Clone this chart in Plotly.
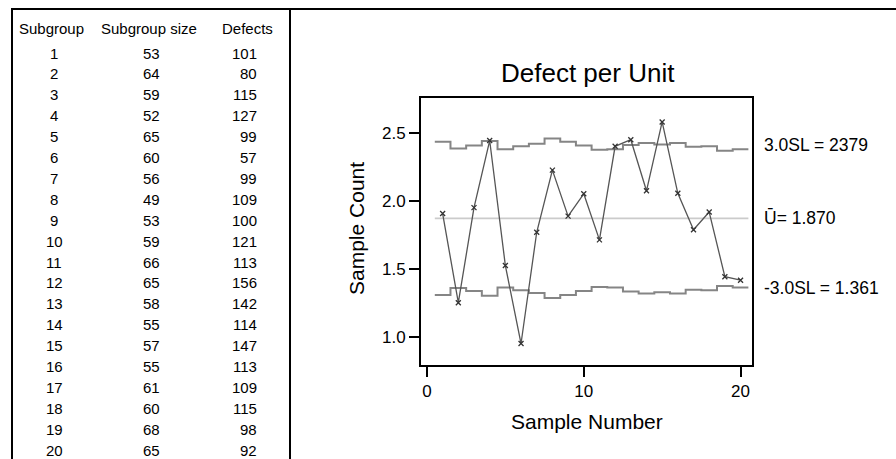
import plotly.graph_objects as go

# Subgroup data for the u-chart
subgroup = list(range(1, 21))
subgroup_size = [53, 64, 59, 52, 65, 60, 56, 49, 53, 59, 66, 65, 58, 55, 57, 55, 61, 60, 68, 65]
defects = [101, 80, 115, 127, 99, 57, 99, 109, 100, 121, 113, 156, 142, 114, 147, 113, 109, 115, 98, 92]

# Control limits per subgroup (3-sigma) and centre line
ucl = [2.434, 2.383, 2.405, 2.439, 2.379, 2.400, 2.419, 2.457, 2.434, 2.405,
       2.375, 2.379, 2.409, 2.424, 2.414, 2.424, 2.396, 2.400, 2.368, 2.379]
lcl = [1.307, 1.358, 1.336, 1.301, 1.361, 1.341, 1.322, 1.284, 1.307, 1.336,
       1.365, 1.361, 1.332, 1.317, 1.327, 1.317, 1.345, 1.341, 1.373, 1.361]
u_bar = 1.870

col_headers = ["Subgroup", "Subgroup size", "Defects"]
x_ticks = [0, 10, 20]
y_ticks = [1.0, 1.5, 2.0, 2.5]

# defects per unit for each subgroup
u = [d / n for d, n in zip(defects, subgroup_size)]

W, H = 896, 459
FONT = "Liberation Sans, Arial, sans-serif"


def px(x):
    return x / W


def py(y):
    return 1 - y / H


fig = go.Figure()

# step limits extend half a subgroup either side
x_step = [subgroup[0] - 0.5] + subgroup + [subgroup[-1] + 0.5]


def padded(vals):
    return [vals[0]] + vals + [vals[-1]]


fig.add_trace(go.Scatter(
    x=x_step, y=padded(ucl), mode="lines", line_shape="hvh",
    line=dict(color="#858585", width=2), hoverinfo="skip", showlegend=False))
fig.add_trace(go.Scatter(
    x=x_step, y=padded(lcl), mode="lines", line_shape="hvh",
    line=dict(color="#858585", width=2), hoverinfo="skip", showlegend=False))
fig.add_trace(go.Scatter(
    x=[x_step[0], x_step[-1]], y=[u_bar, u_bar], mode="lines",
    line=dict(color="#cbcbcb", width=1.8), hoverinfo="skip", showlegend=False))
fig.add_trace(go.Scatter(
    x=subgroup, y=u, mode="lines+markers",
    line=dict(color="#555555", width=1.3),
    marker=dict(symbol="x-thin", size=5, color="#333333",
                line=dict(color="#333333", width=1.3)),
    showlegend=False))

fig.update_xaxes(
    domain=[px(421), px(752)], range=[-0.38, 20.73],
    tickvals=x_ticks, ticks="outside", ticklen=10, tickwidth=1.5, tickcolor="black",
    showline=True, mirror=True, linecolor="black", linewidth=2,
    showgrid=False, zeroline=False,
    tickfont=dict(family=FONT, size=17, color="black"))
fig.update_yaxes(
    domain=[py(365), py(98)], range=[0.792, 2.755],
    tickvals=y_ticks, tickformat=".1f", ticks="outside", ticklen=10, tickwidth=1.5,
    tickcolor="black", showline=True, mirror=True, linecolor="black", linewidth=2,
    showgrid=False, zeroline=False,
    tickfont=dict(family=FONT, size=17, color="black"))

ann = []
# chart title and axis titles
ann.append(dict(x=px(588), y=py(73), xref="paper", yref="paper", text="Defect per Unit",
                showarrow=False, xanchor="center", yanchor="middle",
                font=dict(family=FONT, size=26, color="black")))
ann.append(dict(x=px(587), y=py(421), xref="paper", yref="paper", text="Sample Number",
                showarrow=False, xanchor="center", yanchor="middle",
                font=dict(family=FONT, size=21, color="black")))
ann.append(dict(x=px(357), y=py(229), xref="paper", yref="paper", text="Sample Count",
                showarrow=False, xanchor="center", yanchor="middle", textangle=-90,
                font=dict(family=FONT, size=21, color="black")))

# limit labels on the right of the plot
lab_font = dict(family=FONT, size=17.5, color="black")
ann.append(dict(x=px(762), y=ucl[-1], xref="paper", yref="y", text="3.0SL = 2379",
                showarrow=False, xanchor="left", yanchor="middle", yshift=4, font=lab_font))
ann.append(dict(x=px(762), y=u_bar, xref="paper", yref="y", text="Ū= 1.870",
                showarrow=False, xanchor="left", yanchor="middle", font=lab_font))
ann.append(dict(x=px(762), y=lcl[-1], xref="paper", yref="y", text="-3.0SL = 1.361",
                showarrow=False, xanchor="left", yanchor="middle", font=lab_font))

# data table on the left
tab_font = dict(family=FONT, size=15, color="black")
header_y = 29
row0_y = 53
row_h = 20.9
ann.append(dict(x=px(51), y=py(header_y), xref="paper", yref="paper", text=col_headers[0],
                showarrow=False, xanchor="center", yanchor="middle", font=tab_font))
ann.append(dict(x=px(149), y=py(header_y), xref="paper", yref="paper", text=col_headers[1],
                showarrow=False, xanchor="center", yanchor="middle", font=tab_font))
ann.append(dict(x=px(220), y=py(header_y), xref="paper", yref="paper", text=col_headers[2],
                showarrow=False, xanchor="left", yanchor="middle", font=tab_font))
for i, (g, n, d) in enumerate(zip(subgroup, subgroup_size, defects)):
    yy = py(row0_y + i * row_h)
    ann.append(dict(x=px(54), y=yy, xref="paper", yref="paper", text=str(g),
                    showarrow=False, xanchor="center", yanchor="middle", font=tab_font))
    ann.append(dict(x=px(151), y=yy, xref="paper", yref="paper", text=str(n),
                    showarrow=False, xanchor="center", yanchor="middle", font=tab_font))
    ann.append(dict(x=px(259), y=yy, xref="paper", yref="paper", text=str(d),
                    showarrow=False, xanchor="right", yanchor="middle", font=tab_font))

# table frame: top rule, left rule and column divider
line = dict(color="black", width=2)
shapes = [
    dict(type="line", xref="paper", yref="paper", x0=px(12), x1=1, y0=py(9), y1=py(9), line=line),
    dict(type="line", xref="paper", yref="paper", x0=px(12), x1=px(12), y0=py(8), y1=0, line=line),
    dict(type="line", xref="paper", yref="paper", x0=px(290), x1=px(290), y0=py(8), y1=0, line=line),
]

fig.update_layout(
    width=W, height=H, margin=dict(l=0, r=0, t=0, b=0),
    paper_bgcolor="white", plot_bgcolor="white",
    annotations=ann, shapes=shapes,
    font=dict(family=FONT, color="black"),
)

fig.write_html("out.html")
